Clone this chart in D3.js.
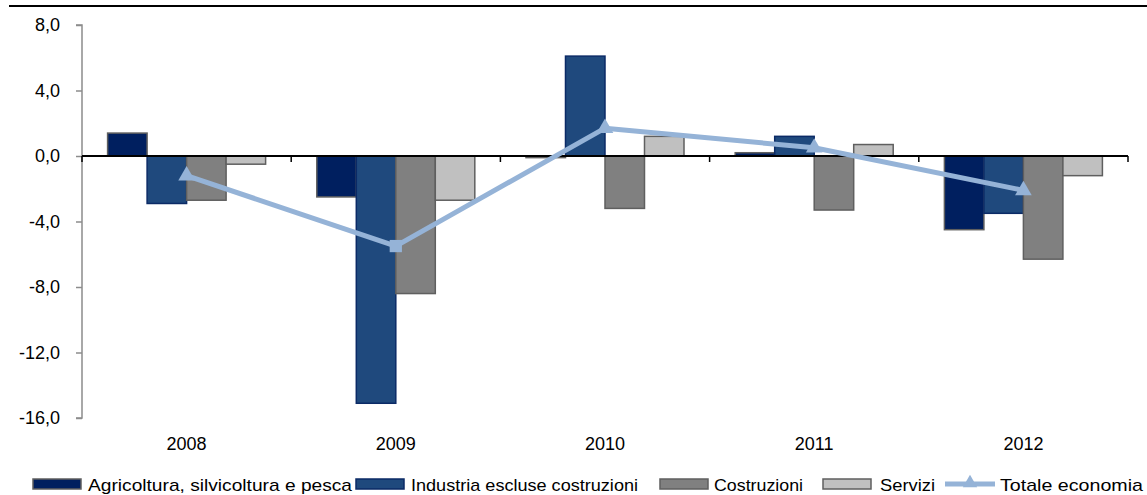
<!DOCTYPE html>
<html>
<head>
<meta charset="utf-8">
<script src="https://cdn.jsdelivr.net/npm/d3@7"></script>
<style>
  html, body { margin: 0; padding: 0; background: #fff; }
  svg { display: block; font-family: "Liberation Sans", Arial, sans-serif; }
</style>
</head>
<body>
<svg id="chart" width="1147" height="495"></svg>
<script>
const years = ["2008", "2009", "2010", "2011", "2012"];
const seriesNames = ["Agricoltura, silvicoltura e pesca", "Industria escluse costruzioni", "Costruzioni", "Servizi"];
const agricoltura = [1.4, -2.5, -0.1, 0.2, -4.5];
const industria = [-2.9, -15.1, 6.1, 1.2, -3.5];
const costruzioni = [-2.7, -8.4, -3.2, -3.3, -6.3];
const servizi = [-0.5, -2.7, 1.2, 0.7, -1.2];
const totaleName = "Totale economia";
const totale = [-1.2, -5.5, 1.7, 0.5, -2.1];
const yTicks = [8, 4, 0, -4, -8, -12, -16];

(function () {
const barSeries = [agricoltura, industria, costruzioni, servizi];
const fills = ["#001f5f", "#1f497d", "#808080", "#c0c0c0"];
const strokes = ["#5f5f5f", "#0b2a66", "#5f5f5f", "#5f5f5f"];

const svg = d3.select("#chart");
const pL = 82, pR = 1128, pT = 25, pB = 418;

const x0 = d3.scaleBand().domain(years).range([pL, pR]).padding(0);
const x1 = d3.scaleBand().domain(d3.range(4)).range([0, x0.bandwidth()]).paddingInner(0).paddingOuter(0.648);
const y = d3.scaleLinear().domain([-16, 8]).range([pB, pT]);

// top rule
svg.append("line").attr("x1", 9).attr("x2", 1147).attr("y1", 6).attr("y2", 6)
  .attr("stroke", "#000").attr("stroke-width", 2);

// y axis
const yAxis = svg.append("g").attr("transform", `translate(${pL},0)`)
  .call(d3.axisLeft(y).tickValues(yTicks).tickSize(6).tickPadding(16)
    .tickFormat(d => d3.format(".1f")(d).replace(".", ",").replace("−", "-")));
yAxis.select(".domain").attr("stroke", "#8c8c8c").attr("stroke-width", 1.5).attr("d", `M-6,${pT}H0V${pB}H-6`);
yAxis.selectAll(".tick line").attr("stroke", "#8c8c8c").attr("stroke-width", 1.5);
yAxis.selectAll(".tick text").attr("font-size", 18).attr("fill", "#000")
  .attr("font-family", "Liberation Sans, Arial, sans-serif");

// bars
const groups = svg.append("g").selectAll("g").data(years).join("g")
  .attr("transform", d => `translate(${x0(d)},0)`);
groups.selectAll("rect").data((d, i) => barSeries.map((s, k) => ({k, v: s[i]}))).join("rect")
  .attr("x", d => x1(d.k))
  .attr("width", x1.bandwidth())
  .attr("y", d => y(Math.max(0, d.v)))
  .attr("height", d => Math.abs(y(d.v) - y(0)))
  .attr("fill", d => fills[d.k])
  .attr("stroke", d => strokes[d.k])
  .attr("stroke-width", 1.5);

// zero axis
const xAxis = svg.append("g").attr("transform", `translate(0,${y(0)})`);
xAxis.append("line").attr("x1", pL).attr("x2", pR).attr("stroke", "#000").attr("stroke-width", 2);
const bounds = years.map(d => x0(d)).concat([pR]);
xAxis.selectAll("line.tk").data(bounds).join("line").attr("class", "tk")
  .attr("x1", d => d).attr("x2", d => d).attr("y1", 0).attr("y2", 6)
  .attr("stroke", "#000").attr("stroke-width", 1.5);

// year labels
svg.append("g").selectAll("text").data(years).join("text")
  .attr("x", d => x0(d) + x0.bandwidth() / 2).attr("y", 450)
  .attr("text-anchor", "middle").attr("font-size", 18).attr("fill", "#000").text(d => d);

// totale line
const lineColor = "#95b3d7";
const cx = d => x0(d) + x0.bandwidth() / 2;
svg.append("path").datum(totale)
  .attr("d", d3.line().x((d, i) => cx(years[i])).y(d => y(d)))
  .attr("fill", "none").attr("stroke", lineColor).attr("stroke-width", 5).attr("stroke-linejoin", "round");
svg.append("g").selectAll("path").data(totale).join("path")
  .attr("transform", (d, i) => `translate(${cx(years[i])},${y(d)})`)
  .attr("d", (d, i) => d3.symbol().type(i === 1 ? d3.symbolSquare : d3.symbolTriangle).size(i === 1 ? 150 : 120)())
  .attr("fill", lineColor);

// legend
const legend = svg.append("g");
const legItems = [
  {name: seriesNames[0], sx: 33, tx: 88, tw: 264, k: 0},
  {name: seriesNames[1], sx: 356, tx: 411, tw: 227, k: 1},
  {name: seriesNames[2], sx: 660, tx: 714, tw: 89, k: 2},
  {name: seriesNames[3], sx: 823, tx: 880, tw: 55, k: 3},
  {name: totaleName, sx: 945, tx: 1000, tw: 143, k: 4}
];
legItems.forEach(it => {
  if (it.k < 4) {
    legend.append("rect").attr("x", it.sx).attr("y", 479).attr("width", 48).attr("height", 10)
      .attr("fill", fills[it.k]).attr("stroke", strokes[it.k]).attr("stroke-width", 1.5);
  } else {
    legend.append("line").attr("x1", it.sx).attr("x2", it.sx + 50).attr("y1", 484).attr("y2", 484)
      .attr("stroke", lineColor).attr("stroke-width", 5);
    legend.append("path").attr("transform", `translate(${it.sx + 25},483)`)
      .attr("d", d3.symbol().type(d3.symbolTriangle).size(90)()).attr("fill", lineColor);
  }
  legend.append("text").attr("x", it.tx).attr("y", 491).attr("font-size", 17).attr("fill", "#000")
    .attr("textLength", it.tw).attr("lengthAdjust", "spacingAndGlyphs").text(it.name);
});
})();
</script>
</body>
</html>
